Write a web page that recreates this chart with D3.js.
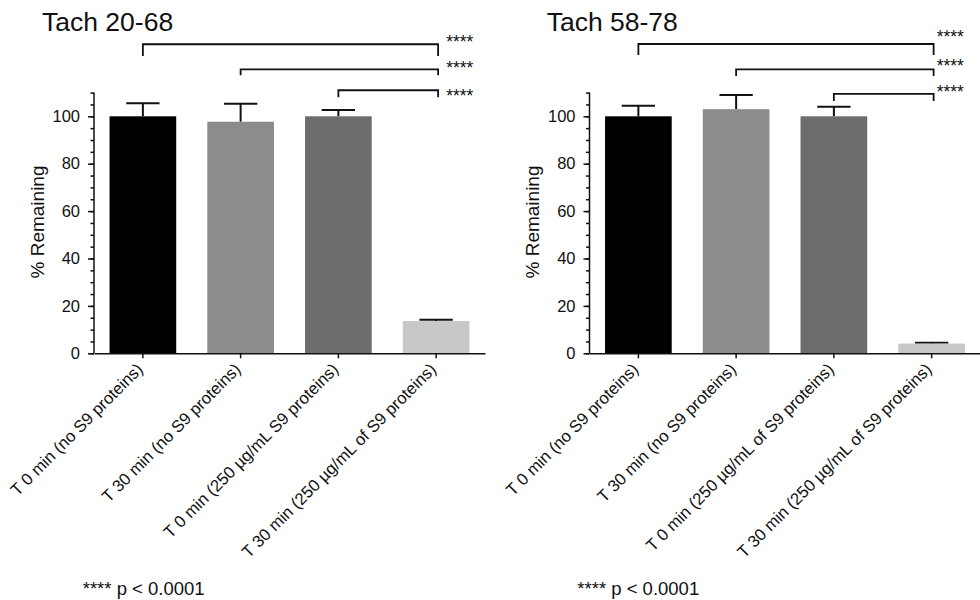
<!DOCTYPE html>
<html>
<head>
<meta charset="utf-8">
<script src="https://cdn.jsdelivr.net/npm/d3@7"></script>
<style>
  html, body { margin: 0; padding: 0; background: #fff; }
  svg { display: block; font-family: "Liberation Sans", Arial, Helvetica, sans-serif; }
</style>
</head>
<body>
<svg id="chart" width="980" height="600"></svg>
<script>
// ---------- data ----------
const titleLeft = "Tach 20-68";
const titleRight = "Tach 58-78";
const categoriesLeft = [
  "T 0 min (no S9 proteins)",
  "T 30 min (no S9 proteins)",
  "T 0 min (250 µg/mL S9 proteins)",
  "T 30 min (250 µg/mL of S9 proteins)"
];
const categoriesRight = [
  "T 0 min (no S9 proteins)",
  "T 30 min (no S9 proteins)",
  "T 0 min (250 µg/mL of S9 proteins)",
  "T 30 min (250 µg/mL of S9 proteins)"
];
const valuesLeft = [100, 97.7, 100, 13.6];
const errorsLeft = [5.5, 7.6, 2.7, 0.6];
const valuesRight = [100, 103, 100, 4.1];
const errorsRight = [4.5, 6.0, 4.0, 0.3];
const barColors = ["#000000", "#8c8c8c", "#6c6c6c", "#c8c8c8"];
const yTicks = [0, 20, 40, 60, 80, 100];
const yMinorTicks = d3.range(0, 111, 5);
const yLabel = "% Remaining";
// significance comparisons: [from index, to index]
const comparisons = [[0, 3], [1, 3], [2, 3]];
const bracketLevelsLeft = [130.4, 119.8, 111];
const bracketLevelsRight = [130.5, 119.8, 109.5];
const bracketDropsLeft = [5, 2.5, 3];
const bracketDropsRight = [4.6, 2.8, 3];
const starLevelsLeft = [128.9, 117.7, 106];
const starLevelsRight = [130.8, 118.5, 107.8];
const sigLabel = "****";
const footnote = "**** p < 0.0001";

// ---------- drawing ----------
const svg = d3.select("#chart");
const FONT = '"Liberation Sans", Arial, Helvetica, sans-serif';

function drawPanel(cfg) {
  const g = svg.append("g");
  const y = d3.scaleLinear().domain([0, 110]).range([353.3, 92.6]);
  const x = d3.scaleBand().domain(cfg.categories).range(cfg.xRange)
    .paddingInner(0.318).paddingOuter(0.159);
  const axisX0 = cfg.xRange[0];

  const data = cfg.categories.map((c, i) => ({ c, v: cfg.values[i], e: cfg.errors[i], col: barColors[i] }));

  // error bars (upper only)
  const capW = x.bandwidth() / 2;
  const eb = g.append("g");
  data.forEach(d => {
    const cx = x(d.c) + x.bandwidth() / 2;
    eb.append("line").attr("x1", cx).attr("x2", cx)
      .attr("y1", y(d.v)).attr("y2", y(d.v + d.e))
      .attr("stroke", "#111").attr("stroke-width", 2);
    eb.append("line").attr("x1", cx - capW / 2).attr("x2", cx + capW / 2)
      .attr("y1", y(d.v + d.e)).attr("y2", y(d.v + d.e))
      .attr("stroke", "#111").attr("stroke-width", 2);
  });

  // bars
  g.append("g").selectAll("rect").data(data).join("rect")
    .attr("x", d => x(d.c))
    .attr("width", x.bandwidth())
    .attr("y", d => y(d.v))
    .attr("height", d => y(0) - y(d.v))
    .attr("fill", d => d.col);

  // y axis with minor ticks
  g.append("g").attr("transform", `translate(${axisX0},0)`)
    .call(d3.axisLeft(y).tickValues(yMinorTicks).tickSize(3.5).tickFormat("").tickSizeOuter(0))
    .call(a => a.select(".domain").remove())
    .call(a => a.selectAll("line").attr("stroke", "#111").attr("stroke-width", 1.5));
  const yAx = g.append("g").attr("transform", `translate(${axisX0},0)`)
    .call(d3.axisLeft(y).tickValues(yTicks).tickSize(6).tickPadding(8).tickSizeOuter(0));
  yAx.select(".domain").attr("stroke", "#111").attr("stroke-width", 1.5)
    .attr("d", `M0,${y(0)}V${y(110)}`);
  yAx.selectAll("line").attr("stroke", "#111").attr("stroke-width", 1.5);
  yAx.selectAll("text").attr("font-size", 16.5).attr("font-family", FONT).attr("fill", "#111");

  // x axis
  const xAx = g.append("g").attr("transform", `translate(0,${y(0)})`)
    .call(d3.axisBottom(x).tickSize(5).tickSizeOuter(0));
  xAx.select(".domain").attr("stroke", "#111").attr("stroke-width", 1.5);
  xAx.selectAll("line").attr("stroke", "#111").attr("stroke-width", 1.5);
  xAx.selectAll("text")
    .attr("font-size", 16.7).attr("font-family", FONT).attr("fill", "#111")
    .attr("text-anchor", "end")
    .attr("dy", 0)
    .attr("y", 0)
    .attr("transform", "translate(1,17) rotate(-45)");

  // y label
  g.append("text")
    .attr("transform", `translate(${axisX0 - 50.5},222) rotate(-90)`)
    .attr("text-anchor", "middle")
    .attr("font-size", 19).attr("font-family", FONT).attr("fill", "#111")
    .text(yLabel);

  // title
  g.append("text")
    .attr("x", cfg.titleX).attr("y", 31)
    .attr("font-size", 26.5).attr("font-family", FONT).attr("fill", "#111")
    .text(cfg.title);

  // significance brackets
  comparisons.forEach((cmp, i) => {
    const x1 = x(cfg.categories[cmp[0]]) + x.bandwidth() / 2;
    const x2 = x(cfg.categories[cmp[1]]) + x.bandwidth() / 2 + 2;
    const yl = y(cfg.bracketLevels[i]);
    const yd = y(cfg.bracketLevels[i] - cfg.bracketDrops[i]);
    g.append("path")
      .attr("d", `M${x1},${yd}V${yl}H${x2}V${yd}`)
      .attr("fill", "none").attr("stroke", "#111").attr("stroke-width", 1.8);
    g.append("text")
      .attr("x", x2 + cfg.starDx).attr("y", y(cfg.starLevels[i]))
      .attr("font-size", 17.5).attr("font-family", FONT).attr("fill", "#111")
      .text(sigLabel);
  });

  // footnote
  g.append("text")
    .attr("x", cfg.footX).attr("y", 595)
    .attr("font-size", 18.5).attr("font-family", FONT).attr("fill", "#111")
    .text(footnote);
}

drawPanel({
  title: titleLeft, titleX: 42,
  categories: categoriesLeft, values: valuesLeft, errors: errorsLeft,
  xRange: [94, 485],
  bracketLevels: bracketLevelsLeft, bracketDrops: bracketDropsLeft,
  starLevels: starLevelsLeft, starDx: 8,
  footX: 82.7
});
drawPanel({
  title: titleRight, titleX: 546.7,
  categories: categoriesRight, values: valuesRight, errors: errorsRight,
  xRange: [589.5, 980.5],
  bracketLevels: bracketLevelsRight, bracketDrops: bracketDropsRight,
  starLevels: starLevelsRight, starDx: 3,
  footX: 577.3
});
</script>
</body>
</html>
